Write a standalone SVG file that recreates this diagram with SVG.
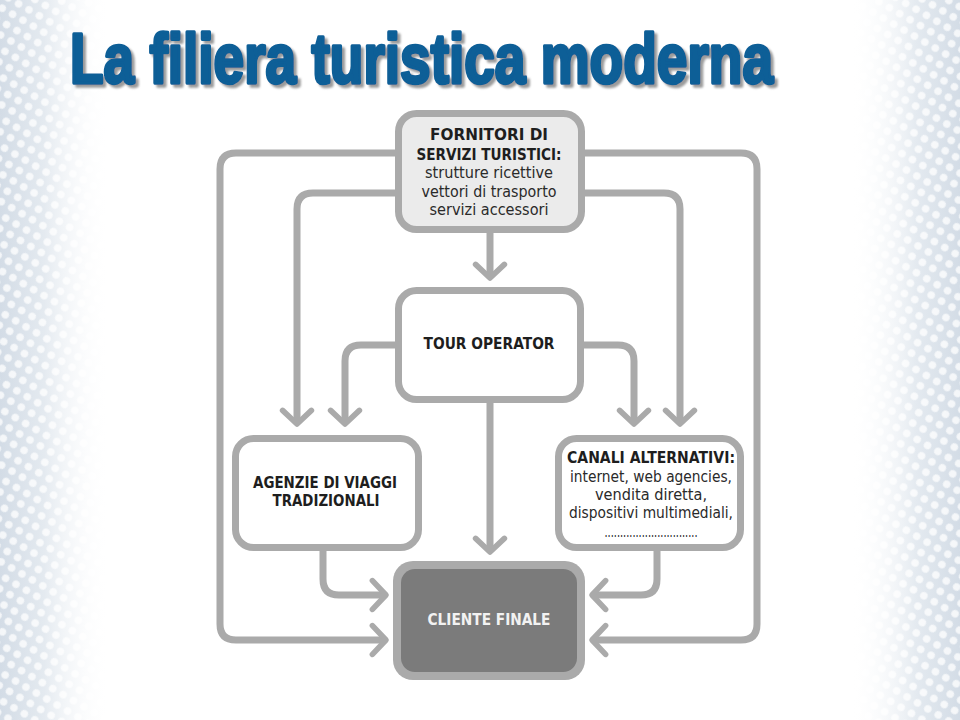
<svg xmlns="http://www.w3.org/2000/svg" width="960" height="720" viewBox="0 0 960 720">
<defs>
<style>
.box{stroke:#aaaaaa;stroke-width:7;}
.con{fill:none;stroke:#aaaaaa;stroke-width:7;stroke-linejoin:round;}
.b{font-family:"DejaVu Sans","Liberation Sans",sans-serif;font-weight:bold;font-size:15px;fill:#1e1e1e;text-anchor:middle;}
.r{font-family:"DejaVu Sans","Liberation Sans",sans-serif;font-size:15px;fill:#2a2a2a;text-anchor:middle;}
.title{font-family:"Liberation Sans","Arial",sans-serif;font-weight:bold;font-size:48px;}
</style>
<marker id="ah" markerUnits="userSpaceOnUse" orient="auto" refX="0" refY="0" markerWidth="40" markerHeight="40" viewBox="-25 -25 50 50" overflow="visible">
<path d="M -17 -18 L 0 0 L -17 18" fill="none" stroke="#aaaaaa" stroke-width="7" stroke-linecap="round" stroke-linejoin="round"/>
</marker>
<linearGradient id="gl" x1="0" y1="0" x2="1" y2="0">
<stop offset="0" stop-color="#d3dce6"/>
<stop offset="0.4" stop-color="#e4eaf0"/>
<stop offset="1" stop-color="#ffffff" stop-opacity="0"/>
</linearGradient>
<linearGradient id="gr" x1="1" y1="0" x2="0" y2="0">
<stop offset="0" stop-color="#d3dce6"/>
<stop offset="0.4" stop-color="#e4eaf0"/>
<stop offset="1" stop-color="#ffffff" stop-opacity="0"/>
</linearGradient>
<pattern id="dots" width="12" height="12" patternUnits="userSpaceOnUse" patternTransform="rotate(30)">
<circle cx="6" cy="6" r="3.8" fill="#ffffff"/>
</pattern>
<filter id="sh" filterUnits="userSpaceOnUse" x="40" y="0" width="780" height="120">
<feDropShadow dx="3" dy="3" stdDeviation="0.8" flood-color="#7a7a7a" flood-opacity="0.75"/>
</filter>
</defs>

<rect x="0" y="0" width="960" height="720" fill="#ffffff"/>
<g id="background">
<rect x="0" y="0" width="110" height="720" fill="url(#gl)"/>
<rect x="0" y="0" width="110" height="720" fill="url(#dots)" opacity="0.75"/>
<rect x="850" y="0" width="110" height="720" fill="url(#gr)"/>
<rect x="850" y="0" width="110" height="720" fill="url(#dots)" opacity="0.75"/>
</g>

<g id="title" filter="url(#sh)">
<text class="title" transform="translate(70,83) scale(1,1.46)" x="0" y="0" fill="#0f5e97" stroke="#0f5e97" stroke-width="2.4" stroke-linejoin="round" textLength="703" lengthAdjust="spacingAndGlyphs">La filiera turistica moderna</text>
</g>

<g id="connectors">
<path class="con" d="M 395 153 H 236 Q 220 153 220 169 V 624 Q 220 640 236 640 H 386" marker-end="url(#ah)"/>
<path class="con" d="M 395 193 H 313 Q 297 193 297 209 V 424" marker-end="url(#ah)"/>
<path class="con" d="M 584 153 H 741 Q 757 153 757 169 V 624 Q 757 640 741 640 H 592" marker-end="url(#ah)"/>
<path class="con" d="M 584 193 H 664 Q 680 193 680 209 V 424" marker-end="url(#ah)"/>
<path class="con" d="M 490 232 V 278" marker-end="url(#ah)"/>
<path class="con" d="M 395 345 H 361 Q 345 345 345 361 V 424" marker-end="url(#ah)"/>
<path class="con" d="M 582 345 H 618 Q 634 345 634 361 V 424" marker-end="url(#ah)"/>
<path class="con" d="M 490 402 V 552" marker-end="url(#ah)"/>
<path class="con" d="M 323 550 V 579 Q 323 595 339 595 H 386" marker-end="url(#ah)"/>
<path class="con" d="M 657 550 V 579 Q 657 595 641 595 H 592" marker-end="url(#ah)"/>
</g>

<g id="fornitori">
<rect class="box" x="398.5" y="113.5" width="183" height="116" rx="18" fill="#ebebeb"/>
<text class="b" x="489" y="140" textLength="118" lengthAdjust="spacingAndGlyphs">FORNITORI DI</text>
<text class="b" x="489" y="160" textLength="145" lengthAdjust="spacingAndGlyphs">SERVIZI TURISTICI:</text>
<text class="r" x="489" y="178" textLength="128" lengthAdjust="spacingAndGlyphs">strutture ricettive</text>
<text class="r" x="489" y="197" textLength="135" lengthAdjust="spacingAndGlyphs">vettori di trasporto</text>
<text class="r" x="489" y="215" textLength="119" lengthAdjust="spacingAndGlyphs">servizi accessori</text>
</g>

<g id="tour-operator">
<rect class="box" x="398.5" y="290.5" width="182" height="109" rx="18" fill="#ffffff"/>
<text class="b" x="489" y="349" textLength="131" lengthAdjust="spacingAndGlyphs">TOUR OPERATOR</text>
</g>

<g id="agenzie">
<rect class="box" x="235.5" y="438.5" width="183" height="109" rx="18" fill="#ffffff"/>
<text class="b" x="325" y="488" textLength="144" lengthAdjust="spacingAndGlyphs">AGENZIE DI VIAGGI</text>
<text class="b" x="326" y="506" textLength="107" lengthAdjust="spacingAndGlyphs">TRADIZIONALI</text>
</g>

<g id="canali">
<rect class="box" x="558.5" y="438.5" width="182" height="109" rx="18" fill="#ffffff"/>
<text class="b" x="651" y="463" textLength="168" lengthAdjust="spacingAndGlyphs">CANALI ALTERNATIVI:</text>
<text class="r" x="651" y="482" textLength="162" lengthAdjust="spacingAndGlyphs">internet, web agencies,</text>
<text class="r" x="651" y="500" textLength="112" lengthAdjust="spacingAndGlyphs">vendita diretta,</text>
<text class="r" x="651" y="518" textLength="164" lengthAdjust="spacingAndGlyphs">dispositivi multimediali,</text>
<text class="r" x="651" y="537" font-size="10" textLength="93" lengthAdjust="spacingAndGlyphs">..............................</text>
</g>

<g id="cliente">
<rect x="393" y="561" width="192" height="119" rx="20" fill="#aaaaaa"/>
<rect x="401" y="569" width="176" height="103" rx="14" fill="#7b7b7b"/>
<text class="b" x="489" y="625" style="fill:#f2f2f2" textLength="123" lengthAdjust="spacingAndGlyphs">CLIENTE FINALE</text>
</g>
</svg>
